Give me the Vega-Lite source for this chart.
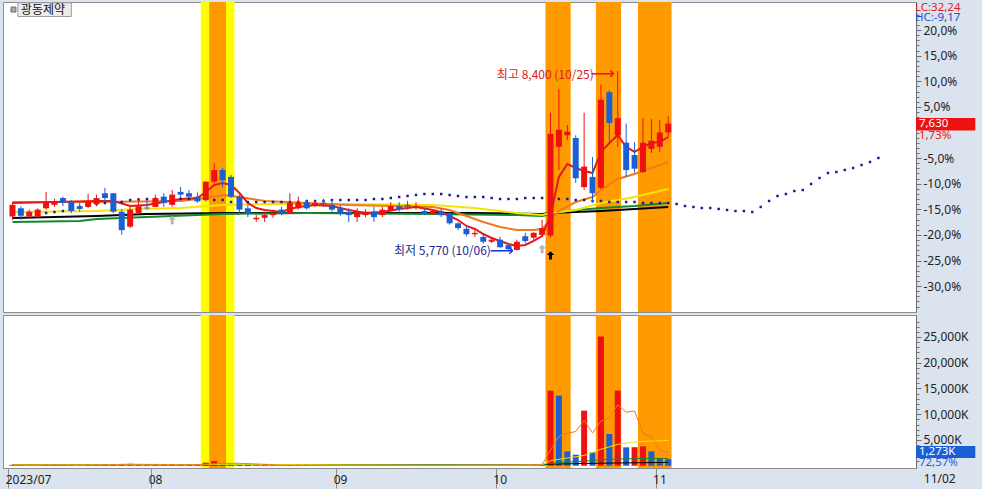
{
  "$schema": "https://vega.github.io/schema/vega-lite/v6.json",
  "background": "#dbe3ef",
  "padding": {"left": 2, "top": 1, "right": 1, "bottom": 0},
  "spacing": 3,
  "bounds": "flush",
  "config": {
    "view": {"fill": "#ffffff", "stroke": "#8c8c8c", "strokeWidth": 1},
    "axis": {"labelFont": "Noto Sans", "labelFontSize": 12, "labelColor": "#222222", "grid": false, "labelOverlap": false, "labelFlush": false, "domainColor": "#6e6e6e", "tickColor": "#6e6e6e"},
    "text": {"font": "Noto Sans", "fontSize": 12}
  },
  "datasets": {
    "bands": [
      {"a": 22.4, "b": 26.4, "kind": "yellow"},
      {"a": 23.4, "b": 25.4, "kind": "orange"},
      {"a": 63.4, "b": 66.4, "kind": "orange"},
      {"a": 69.4, "b": 72.4, "kind": "orange"},
      {"a": 74.4, "b": 78.4, "kind": "orange"}
    ],
    "candles": [
      {"i":0,"o":6270,"h":6470,"l":6220,"c":6440},{"i":1,"o":6390,"h":6420,"l":6220,"c":6280},{"i":2,"o":6270,"h":6370,"l":6250,"c":6340},{"i":3,"o":6260,"h":6390,"l":6250,"c":6370},{"i":4,"o":6390,"h":6630,"l":6370,"c":6480},{"i":5,"o":6440,"h":6530,"l":6410,"c":6480},{"i":6,"o":6540,"h":6560,"l":6420,"c":6470},{"i":7,"o":6480,"h":6510,"l":6320,"c":6350},{"i":8,"o":6420,"h":6470,"l":6340,"c":6380},{"i":9,"o":6410,"h":6600,"l":6390,"c":6480},
      {"i":10,"o":6450,"h":6590,"l":6420,"c":6540},{"i":11,"o":6610,"h":6690,"l":6480,"c":6540},{"i":12,"o":6610,"h":6610,"l":6320,"c":6340},{"i":13,"o":6340,"h":6380,"l":6000,"c":6070},{"i":14,"o":6120,"h":6410,"l":6100,"c":6370},{"i":15,"o":6320,"h":6510,"l":6320,"c":6420},{"i":16,"o":6400,"h":6510,"l":6370,"c":6390},{"i":17,"o":6410,"h":6590,"l":6410,"c":6540},{"i":18,"o":6560,"h":6610,"l":6410,"c":6470},{"i":19,"o":6440,"h":6660,"l":6410,"c":6590},
      {"i":20,"o":6630,"h":6700,"l":6540,"c":6590},{"i":21,"o":6610,"h":6660,"l":6530,"c":6560},{"i":22,"o":6560,"h":6620,"l":6470,"c":6490},{"i":23,"o":6510,"h":6780,"l":6490,"c":6780},{"i":24,"o":6780,"h":7050,"l":6760,"c":6950},{"i":25,"o":6950,"h":6980,"l":6700,"c":6800},{"i":26,"o":6850,"h":6880,"l":6540,"c":6560},{"i":27,"o":6560,"h":6590,"l":6320,"c":6370},{"i":28,"o":6390,"h":6440,"l":6260,"c":6320},{"i":29,"o":6230,"h":6290,"l":6190,"c":6250},
      {"i":30,"o":6250,"h":6340,"l":6190,"c":6290},{"i":31,"o":6290,"h":6370,"l":6250,"c":6320},{"i":32,"o":6370,"h":6410,"l":6290,"c":6320},{"i":33,"o":6320,"h":6610,"l":6320,"c":6470},{"i":34,"o":6390,"h":6560,"l":6370,"c":6470},{"i":35,"o":6480,"h":6510,"l":6370,"c":6390},{"i":36,"o":6440,"h":6510,"l":6410,"c":6470},{"i":37,"o":6470,"h":6530,"l":6410,"c":6450},{"i":38,"o":6440,"h":6510,"l":6340,"c":6370},{"i":39,"o":6390,"h":6440,"l":6280,"c":6310},
      {"i":40,"o":6340,"h":6390,"l":6190,"c":6290},{"i":41,"o":6260,"h":6390,"l":6190,"c":6340},{"i":42,"o":6290,"h":6380,"l":6260,"c":6340},{"i":43,"o":6340,"h":6410,"l":6190,"c":6260},{"i":44,"o":6290,"h":6410,"l":6260,"c":6370},{"i":45,"o":6350,"h":6480,"l":6340,"c":6420},{"i":46,"o":6420,"h":6480,"l":6340,"c":6380},{"i":47,"o":6440,"h":6500,"l":6370,"c":6420},{"i":48,"o":6410,"h":6480,"l":6370,"c":6420},{"i":49,"o":6350,"h":6390,"l":6290,"c":6320},
      {"i":50,"o":6320,"h":6380,"l":6290,"c":6350},{"i":51,"o":6350,"h":6390,"l":6260,"c":6290},{"i":52,"o":6320,"h":6340,"l":6150,"c":6170},{"i":53,"o":6170,"h":6190,"l":6070,"c":6100},{"i":54,"o":6090,"h":6120,"l":5980,"c":6010},{"i":55,"o":6010,"h":6070,"l":5970,"c":6030},{"i":56,"o":5970,"h":6030,"l":5870,"c":5900},{"i":57,"o":5900,"h":5970,"l":5880,"c":5930},{"i":58,"o":5930,"h":5970,"l":5810,"c":5820},{"i":59,"o":5850,"h":5880,"l":5780,"c":5790},
      {"i":60,"o":5780,"h":5930,"l":5770,"c":5900},{"i":61,"o":5980,"h":6030,"l":5880,"c":5910},{"i":62,"o":5960,"h":6040,"l":5930,"c":6030},{"i":63,"o":6000,"h":6220,"l":5980,"c":6100},{"i":64,"o":5990,"h":7790,"l":5960,"c":7480},{"i":65,"o":7290,"h":8140,"l":6950,"c":7540},{"i":66,"o":7460,"h":7610,"l":7390,"c":7510},{"i":67,"o":7420,"h":7460,"l":6760,"c":6830},{"i":68,"o":6700,"h":7790,"l":6660,"c":7000},{"i":69,"o":6850,"h":7140,"l":6470,"c":6610},
      {"i":70,"o":6690,"h":8200,"l":6670,"c":7980},{"i":71,"o":8090,"h":8120,"l":7350,"c":7640},{"i":72,"o":7460,"h":8400,"l":7290,"c":7710},{"i":73,"o":7350,"h":7630,"l":6850,"c":6950},{"i":74,"o":7170,"h":7360,"l":6910,"c":6970},{"i":75,"o":6920,"h":7710,"l":6910,"c":7350},{"i":76,"o":7260,"h":7700,"l":7200,"c":7380},{"i":77,"o":7290,"h":7680,"l":7210,"c":7500},{"i":78,"o":7500,"h":7740,"l":7430,"c":7630}
    ],
    "ma": [
      {"s":"ma120","i":0,"p":6248},{"s":"ma120","i":10,"p":6277},{"s":"ma120","i":16,"p":6306},{"s":"ma120","i":25,"p":6321},{"s":"ma120","i":40,"p":6321},{"s":"ma120","i":55,"p":6321},{"s":"ma120","i":63,"p":6306},{"s":"ma120","i":64,"p":6321},{"s":"ma120","i":70,"p":6350},{"s":"ma120","i":78,"p":6409},
      {"s":"ma60","i":0,"p":6189},{"s":"ma60","i":8,"p":6204},{"s":"ma60","i":10,"p":6233},{"s":"ma60","i":16,"p":6262},{"s":"ma60","i":25,"p":6306},{"s":"ma60","i":35,"p":6321},{"s":"ma60","i":50,"p":6306},{"s":"ma60","i":60,"p":6291},{"s":"ma60","i":63,"p":6277},{"s":"ma60","i":66,"p":6350},{"s":"ma60","i":70,"p":6394},{"s":"ma60","i":74,"p":6424},{"s":"ma60","i":78,"p":6467},
      {"s":"ma20","i":0,"p":6335},{"s":"ma20","i":10,"p":6350},{"s":"ma20","i":15,"p":6380},{"s":"ma20","i":20,"p":6394},{"s":"ma20","i":25,"p":6438},{"s":"ma20","i":30,"p":6453},{"s":"ma20","i":40,"p":6453},{"s":"ma20","i":50,"p":6438},{"s":"ma20","i":55,"p":6394},{"s":"ma20","i":60,"p":6321},{"s":"ma20","i":63,"p":6291},{"s":"ma20","i":64,"p":6321},{"s":"ma20","i":67,"p":6365},{"s":"ma20","i":70,"p":6467},{"s":"ma20","i":74,"p":6555},{"s":"ma20","i":78,"p":6672},
      {"s":"ma10","i":0,"p":6482},{"s":"ma10","i":10,"p":6482},{"s":"ma10","i":20,"p":6497},{"s":"ma10","i":23,"p":6541},{"s":"ma10","i":25,"p":6585},{"s":"ma10","i":27,"p":6555},{"s":"ma10","i":30,"p":6497},{"s":"ma10","i":35,"p":6467},{"s":"ma10","i":40,"p":6438},{"s":"ma10","i":45,"p":6424},{"s":"ma10","i":50,"p":6409},{"s":"ma10","i":52,"p":6365},{"s":"ma10","i":54,"p":6277},{"s":"ma10","i":56,"p":6189},{"s":"ma10","i":58,"p":6116},{"s":"ma10","i":60,"p":6072},{"s":"ma10","i":62,"p":6072},{"s":"ma10","i":63,"p":6087},{"s":"ma10","i":64,"p":6218},{"s":"ma10","i":65,"p":6350},{"s":"ma10","i":67,"p":6482},{"s":"ma10","i":69,"p":6555},{"s":"ma10","i":70,"p":6658},{"s":"ma10","i":72,"p":6819},{"s":"ma10","i":74,"p":6892},{"s":"ma10","i":76,"p":6980},{"s":"ma10","i":78,"p":7068},
      {"s":"ma5","i":0,"p":6467},{"s":"ma5","i":5,"p":6482},{"s":"ma5","i":10,"p":6497},{"s":"ma5","i":12,"p":6497},{"s":"ma5","i":14,"p":6424},{"s":"ma5","i":16,"p":6438},{"s":"ma5","i":18,"p":6482},{"s":"ma5","i":20,"p":6526},{"s":"ma5","i":22,"p":6541},{"s":"ma5","i":23,"p":6629},{"s":"ma5","i":24,"p":6731},{"s":"ma5","i":25,"p":6760},{"s":"ma5","i":26,"p":6731},{"s":"ma5","i":27,"p":6614},{"s":"ma5","i":28,"p":6467},{"s":"ma5","i":29,"p":6394},{"s":"ma5","i":30,"p":6365},{"s":"ma5","i":31,"p":6350},{"s":"ma5","i":32,"p":6335},{"s":"ma5","i":33,"p":6380},{"s":"ma5","i":34,"p":6409},{"s":"ma5","i":36,"p":6438},{"s":"ma5","i":38,"p":6424},{"s":"ma5","i":40,"p":6365},{"s":"ma5","i":42,"p":6321},{"s":"ma5","i":44,"p":6335},{"s":"ma5","i":46,"p":6380},{"s":"ma5","i":48,"p":6409},{"s":"ma5","i":50,"p":6365},{"s":"ma5","i":51,"p":6335},{"s":"ma5","i":52,"p":6277},{"s":"ma5","i":53,"p":6218},{"s":"ma5","i":54,"p":6131},{"s":"ma5","i":55,"p":6087},{"s":"ma5","i":56,"p":6013},{"s":"ma5","i":57,"p":5955},{"s":"ma5","i":58,"p":5911},{"s":"ma5","i":59,"p":5867},{"s":"ma5","i":60,"p":5837},{"s":"ma5","i":61,"p":5852},{"s":"ma5","i":62,"p":5911},{"s":"ma5","i":63,"p":5984},{"s":"ma5","i":64,"p":6280},{"s":"ma5","i":65,"p":6848},{"s":"ma5","i":66,"p":7039},{"s":"ma5","i":67,"p":6980},{"s":"ma5","i":68,"p":6936},{"s":"ma5","i":69,"p":6907},{"s":"ma5","i":70,"p":7215},{"s":"ma5","i":71,"p":7346},{"s":"ma5","i":72,"p":7463},{"s":"ma5","i":73,"p":7288},{"s":"ma5","i":74,"p":7215},{"s":"ma5","i":75,"p":7288},{"s":"ma5","i":76,"p":7346},{"s":"ma5","i":77,"p":7361},{"s":"ma5","i":78,"p":7434}
    ],
    "dots": [
      {"i":3,"p":6306},{"i":4,"p":6321},{"i":5,"p":6335},{"i":6,"p":6350},{"i":7,"p":6380},{"i":8,"p":6409},{"i":9,"p":6438},{"i":10,"p":6453},{"i":11,"p":6467},{"i":12,"p":6482},{"i":13,"p":6482},{"i":14,"p":6511},{"i":15,"p":6520},{"i":16,"p":6526},{"i":17,"p":6526},{"i":18,"p":6526},{"i":19,"p":6526},{"i":20,"p":6526},{"i":21,"p":6526},{"i":22,"p":6526},{"i":23,"p":6526},{"i":24,"p":6511},{"i":25,"p":6511},{"i":26,"p":6482},{"i":27,"p":6482},{"i":28,"p":6482},{"i":29,"p":6482},{"i":30,"p":6482},{"i":31,"p":6482},{"i":32,"p":6482},{"i":33,"p":6482},{"i":34,"p":6482},{"i":35,"p":6497},{"i":36,"p":6497},{"i":37,"p":6497},{"i":38,"p":6511},{"i":39,"p":6511},{"i":40,"p":6511},{"i":41,"p":6511},{"i":42,"p":6511},{"i":43,"p":6526},{"i":44,"p":6526},{"i":45,"p":6541},{"i":46,"p":6555},{"i":47,"p":6570},{"i":48,"p":6585},{"i":49,"p":6599},{"i":50,"p":6599},{"i":51,"p":6599},{"i":52,"p":6585},{"i":53,"p":6570},{"i":54,"p":6555},{"i":55,"p":6555},{"i":56,"p":6555},{"i":57,"p":6541},{"i":58,"p":6526},{"i":59,"p":6526},{"i":60,"p":6526},{"i":61,"p":6541},{"i":62,"p":6541},{"i":63,"p":6541},{"i":64,"p":6526},{"i":65,"p":6526},{"i":66,"p":6526},{"i":67,"p":6511},{"i":68,"p":6511},{"i":69,"p":6497},{"i":70,"p":6497},{"i":71,"p":6482},{"i":72,"p":6482},{"i":73,"p":6482},{"i":74,"p":6482},{"i":75,"p":6467},{"i":76,"p":6467},{"i":77,"p":6467},{"i":78,"p":6467},{"i":79,"p":6453},{"i":80,"p":6424},{"i":81,"p":6409},{"i":82,"p":6394},{"i":83,"p":6394},{"i":84,"p":6380},{"i":85,"p":6365},{"i":86,"p":6350},{"i":87,"p":6350},{"i":88,"p":6335},{"i":89,"p":6409},{"i":90,"p":6497},{"i":91,"p":6570},{"i":92,"p":6599},{"i":93,"p":6643},{"i":94,"p":6658},{"i":95,"p":6746},{"i":96,"p":6834},{"i":97,"p":6907},{"i":98,"p":6922},{"i":99,"p":6951},{"i":100,"p":6980},{"i":101,"p":7024},{"i":102,"p":7068},{"i":103,"p":7127}
    ],
    "vol": [
      {"i":0,"v":180},{"i":1,"v":120},{"i":2,"v":100},{"i":3,"v":90},{"i":4,"v":260},{"i":5,"v":150},{"i":6,"v":140},{"i":7,"v":130},{"i":8,"v":90},{"i":9,"v":160},{"i":10,"v":170},{"i":11,"v":230},{"i":12,"v":280},{"i":13,"v":350},{"i":14,"v":380},{"i":15,"v":200},{"i":16,"v":130},{"i":17,"v":250},{"i":18,"v":200},{"i":19,"v":260},{"i":20,"v":170},{"i":21,"v":120},{"i":22,"v":110},{"i":23,"v":600},{"i":24,"v":900},{"i":25,"v":450},{"i":26,"v":350},{"i":27,"v":250},{"i":28,"v":160},{"i":29,"v":110},{"i":30,"v":100},{"i":31,"v":90},{"i":32,"v":80},{"i":33,"v":200},{"i":34,"v":130},{"i":35,"v":110},{"i":36,"v":90},{"i":37,"v":80},{"i":38,"v":100},{"i":39,"v":90},{"i":40,"v":110},{"i":41,"v":100},{"i":42,"v":80},{"i":43,"v":110},{"i":44,"v":90},{"i":45,"v":100},{"i":46,"v":80},{"i":47,"v":70},{"i":48,"v":70},{"i":49,"v":90},{"i":50,"v":80},{"i":51,"v":90},{"i":52,"v":150},{"i":53,"v":130},{"i":54,"v":160},{"i":55,"v":90},{"i":56,"v":140},{"i":57,"v":100},{"i":58,"v":150},{"i":59,"v":180},{"i":60,"v":200},{"i":61,"v":150},{"i":62,"v":120},{"i":63,"v":350},{"i":64,"v":14590},{"i":65,"v":13620},{"i":66,"v":2790},{"i":67,"v":2140},{"i":68,"v":10700},{"i":69,"v":2600},{"i":70,"v":25100},{"i":71,"v":6170},{"i":72,"v":14590},{"i":73,"v":3570},{"i":74,"v":3600},{"i":75,"v":3760},{"i":76,"v":2790},{"i":77,"v":1490},{"i":78,"v":1273}
    ],
    "vma": [
      {"s":"ma120v","i":0,"v":180},{"s":"ma120v","i":30,"v":200},{"s":"ma120v","i":63,"v":190},{"s":"ma120v","i":64,"v":300},{"s":"ma120v","i":70,"v":500},{"s":"ma120v","i":78,"v":650},
      {"s":"ma60v","i":0,"v":200},{"s":"ma60v","i":30,"v":230},{"s":"ma60v","i":63,"v":180},{"s":"ma60v","i":64,"v":430},{"s":"ma60v","i":66,"v":700},{"s":"ma60v","i":68,"v":900},{"s":"ma60v","i":70,"v":1150},{"s":"ma60v","i":72,"v":1300},{"s":"ma60v","i":74,"v":1380},{"s":"ma60v","i":76,"v":1420},{"s":"ma60v","i":78,"v":1440},
      {"s":"ma20v","i":0,"v":170},{"s":"ma20v","i":10,"v":180},{"s":"ma20v","i":20,"v":200},{"s":"ma20v","i":25,"v":280},{"s":"ma20v","i":30,"v":270},{"s":"ma20v","i":40,"v":150},{"s":"ma20v","i":50,"v":100},{"s":"ma20v","i":60,"v":120},{"s":"ma20v","i":63,"v":160},{"s":"ma20v","i":64,"v":1000},{"s":"ma20v","i":66,"v":1500},{"s":"ma20v","i":68,"v":2000},{"s":"ma20v","i":70,"v":3200},{"s":"ma20v","i":72,"v":4150},{"s":"ma20v","i":74,"v":4620},{"s":"ma20v","i":76,"v":4800},{"s":"ma20v","i":78,"v":4900},
      {"s":"ma5v","i":0,"v":150},{"s":"ma5v","i":5,"v":160},{"s":"ma5v","i":10,"v":170},{"s":"ma5v","i":14,"v":290},{"s":"ma5v","i":18,"v":240},{"s":"ma5v","i":20,"v":210},{"s":"ma5v","i":23,"v":260},{"s":"ma5v","i":25,"v":450},{"s":"ma5v","i":27,"v":480},{"s":"ma5v","i":29,"v":340},{"s":"ma5v","i":32,"v":120},{"s":"ma5v","i":36,"v":120},{"s":"ma5v","i":40,"v":95},{"s":"ma5v","i":45,"v":95},{"s":"ma5v","i":50,"v":80},{"s":"ma5v","i":55,"v":120},{"s":"ma5v","i":60,"v":150},{"s":"ma5v","i":63,"v":200},{"s":"ma5v","i":64,"v":3040},{"s":"ma5v","i":65,"v":5730},{"s":"ma5v","i":66,"v":6260},{"s":"ma5v","i":67,"v":6660},{"s":"ma5v","i":68,"v":8770},{"s":"ma5v","i":69,"v":6370},{"s":"ma5v","i":70,"v":8670},{"s":"ma5v","i":71,"v":9340},{"s":"ma5v","i":72,"v":11830},{"s":"ma5v","i":73,"v":10410},{"s":"ma5v","i":74,"v":10610},{"s":"ma5v","i":75,"v":6340},{"s":"ma5v","i":76,"v":5660},{"s":"ma5v","i":77,"v":3040},{"s":"ma5v","i":78,"v":2580}
    ]
  },
  "vconcat": [
    {
      "width": 913,
      "height": 310,
      "resolve": {"axis": {"y": "independent"}},
      "layer": [
        {
          "data": {"name": "bands"},
          "mark": {"type": "rect"},
          "encoding": {
            "x": {"field": "a", "type": "quantitative", "scale": {"domain": [-0.53, 106.88], "nice": false, "zero": false}, "axis": null},
            "x2": {"field": "b"},
            "color": {"condition": {"test": "datum.kind == 'yellow'", "value": "#ffff00"}, "value": "#ff9a00"}
          }
        },
        {
          "data": {"name": "ma"},
          "mark": {"type": "line", "strokeWidth": 2},
          "encoding": {
            "x": {"field": "i", "type": "quantitative"},
            "y": {
              "field": "p", "type": "quantitative",
              "scale": {"domain": [4870.7, 9411.6], "nice": false, "zero": false},
              "axis": {
                "orient": "right", "title": null,
                "values": [5250, 5625, 6000, 6375, 6750, 7125, 7875, 8250, 8625, 9000],
                "labelExpr": "(datum.value < 7500 ? '-' : '') + abs(round((datum.value-7500)/75)) + ',0%'",
                "tickSize": 5,
                "labelOverlap": false, "labelFlush": false,
                "labelPadding": 2,
                "minExtent": 66, "maxExtent": 66
              }
            },
            "color": {"field": "s", "type": "nominal", "scale": {"domain": ["ma120", "ma60", "ma20", "ma10", "ma5"], "range": ["#000000", "#14882a", "#f2e600", "#f07a1e", "#e81818"]}, "legend": null}
          }
        },
        {
          "data": {"name": "dots"},
          "mark": {"type": "point", "shape": "square", "filled": true, "size": 6, "opacity": 1, "color": "#1a1a96"},
          "encoding": {
            "x": {"field": "i", "type": "quantitative"},
            "y": {
              "field": "p", "type": "quantitative",
              "axis": {
                "orient": "right", "title": null, "labels": false, "domain": false,
                "values": [4950,5025,5100,5175,5250,5325,5400,5475,5550,5625,5700,5775,5850,5925,6000,6075,6150,6225,6300,6375,6450,6525,6600,6675,6750,6825,6900,6975,7050,7125,7200,7275,7350,7425,7500,7575,7650,7725,7800,7875,7950,8025,8100,8175,8250,8325,8400,8475,8550,8625,8700,8775,8850,8925,9000,9075,9150,9225,9300],
                "tickSize": 3,
                "minExtent": 66, "maxExtent": 66
              }
            }
          }
        },
        {
          "data": {"name": "candles"},
          "mark": {"type": "rule", "strokeWidth": 1},
          "encoding": {
            "x": {"field": "i", "type": "quantitative"},
            "y": {"field": "l", "type": "quantitative", "axis": null},
            "y2": {"field": "h"},
            "color": {"condition": {"test": "datum.c >= datum.o", "value": "#ee1111"}, "value": "#1c5fd4"}
          }
        },
        {
          "data": {"name": "candles"},
          "mark": {"type": "bar", "width": 6, "orient": "vertical"},
          "encoding": {
            "x": {"field": "i", "type": "quantitative"},
            "y": {"field": "o", "type": "quantitative", "axis": null},
            "y2": {"field": "c"},
            "color": {"condition": {"test": "datum.c >= datum.o", "value": "#ee1111"}, "value": "#1c5fd4"}
          }
        },
        {
          "data": {"values": [{"i": 19, "p": 6218, "k": "gray"}, {"i": 63, "p": 5793, "k": "gray"}, {"i": 64, "p": 5700, "k": "black"}]},
          "mark": {"type": "point", "shape": "M0,-1L0.9,-0.1L0.35,-0.1L0.35,1L-0.35,1L-0.35,-0.1L-0.9,-0.1Z", "filled": true, "size": 70, "opacity": 1},
          "encoding": {
            "x": {"field": "i", "type": "quantitative"},
            "y": {"field": "p", "type": "quantitative", "axis": null},
            "color": {"condition": {"test": "datum.k == 'black'", "value": "#000000"}, "value": "#b4b4b4"}
          }
        },
        {
          "data": {"values": [{"i": 72, "p": 8400, "t": "최고 8,400 (10/25)"}]},
          "mark": {"type": "text", "align": "right", "baseline": "middle", "dx": -24, "dy": 4, "font": "Noto Sans CJK KR", "fontSize": 12, "color": "#d81e1e"},
          "encoding": {"x": {"field": "i", "type": "quantitative"}, "y": {"field": "p", "type": "quantitative", "axis": null}, "text": {"field": "t"}}
        },
        {
          "data": {"values": [{"i": 72, "p": 8400}]},
          "mark": {"type": "text", "text": "⟶", "align": "right", "baseline": "middle", "dx": -3, "dy": 3, "font": "DejaVu Sans", "fontSize": 17, "color": "#e81818"},
          "encoding": {"x": {"field": "i", "type": "quantitative"}, "y": {"field": "p", "type": "quantitative", "axis": null}}
        },
        {
          "data": {"values": [{"i": 60, "p": 5770, "t": "최저 5,770 (10/06)"}]},
          "mark": {"type": "text", "align": "right", "baseline": "middle", "dx": -26, "dy": 0, "font": "Noto Sans CJK KR", "fontSize": 12, "color": "#1f2a8a"},
          "encoding": {"x": {"field": "i", "type": "quantitative"}, "y": {"field": "p", "type": "quantitative", "axis": null}, "text": {"field": "t"}}
        },
        {
          "data": {"values": [{"i": 60, "p": 5770}]},
          "mark": {"type": "text", "text": "⟶", "align": "right", "baseline": "middle", "dx": -3, "dy": 0, "font": "DejaVu Sans", "fontSize": 17, "color": "#1538e0"},
          "encoding": {"x": {"field": "i", "type": "quantitative"}, "y": {"field": "p", "type": "quantitative", "axis": null}}
        },
        {
          "data": {"values": [{"t": "LC:32,24"}]},
          "mark": {"type": "text", "align": "left", "baseline": "middle", "fontSize": 11.5, "color": "#e02020"},
          "encoding": {"x": {"datum": 107.35, "type": "quantitative"}, "y": {"datum": 9324, "type": "quantitative", "axis": null}, "text": {"field": "t"}}
        },
        {
          "data": {"values": [{"t": "HC:-9,17"}]},
          "mark": {"type": "text", "align": "left", "baseline": "middle", "fontSize": 11.5, "color": "#2050c8"},
          "encoding": {"x": {"datum": 107.35, "type": "quantitative"}, "y": {"datum": 9170, "type": "quantitative", "axis": null}, "text": {"field": "t"}}
        },
        {
          "data": {"values": [{"t": "7,630"}]},
          "mark": {"type": "rect", "color": "#ee1111"},
          "encoding": {"x": {"datum": 107.47, "type": "quantitative"}, "x2": {"datum": 114.53}, "y": {"datum": 7712, "type": "quantitative", "axis": null}, "y2": {"datum": 7529}}
        },
        {
          "data": {"values": [{"t": "7,630", "p": 7630}]},
          "mark": {"type": "text", "align": "left", "baseline": "middle", "fontSize": 11.5, "color": "#ffffff"},
          "encoding": {"x": {"datum": 107.82, "type": "quantitative"}, "y": {"field": "p", "type": "quantitative", "axis": null}, "text": {"field": "t"}}
        },
        {
          "data": {"values": [{"t": "1,73%"}]},
          "mark": {"type": "text", "align": "left", "baseline": "middle", "fontSize": 11.5, "color": "#e02020"},
          "encoding": {"x": {"datum": 107.82, "type": "quantitative"}, "y": {"datum": 7450, "type": "quantitative", "axis": null}, "text": {"field": "t"}}
        },
        {
          "data": {"values": [{"t": "box"}]},
          "mark": {"type": "rect", "fill": "#ededed", "stroke": "#9a9a9a", "strokeWidth": 1},
          "encoding": {"x": {"datum": 0.65, "type": "quantitative"}, "x2": {"datum": 7.0}, "y": {"datum": 9400, "type": "quantitative", "axis": null}, "y2": {"datum": 9200}}
        },
        {
          "data": {"values": [{"t": "sq"}]},
          "mark": {"type": "point", "shape": "square", "filled": true, "size": 25, "opacity": 1, "color": "#a8a8a8", "stroke": "#707070", "strokeWidth": 1},
          "encoding": {"x": {"datum": 0.12, "type": "quantitative"}, "y": {"datum": 9301, "type": "quantitative", "axis": null}}
        },
        {
          "data": {"values": [{"t": "광동제약"}]},
          "mark": {"type": "text", "align": "left", "baseline": "middle", "font": "Noto Sans CJK KR", "fontSize": 12, "color": "#111111"},
          "encoding": {"x": {"datum": 1.0, "type": "quantitative"}, "y": {"datum": 9298, "type": "quantitative", "axis": null}, "text": {"field": "t"}}
        }
      ]
    },
    {
      "width": 913,
      "height": 153,
      "resolve": {"axis": {"y": "independent"}},
      "layer": [
        {
          "data": {"name": "bands"},
          "mark": {"type": "rect"},
          "encoding": {
            "x": {
              "field": "a", "type": "quantitative",
              "scale": {"domain": [-0.53, 106.88], "nice": false, "zero": false},
              "axis": {
                "title": null,
                "values": [-0.5, 16.5, 38.5, 57.5, 76.5],
                "labelExpr": "datum.value < 0 ? '2023/07' : datum.value < 20 ? '08' : datum.value < 40 ? '09' : datum.value < 60 ? '10' : '11'",
                "labelAlign": "left", "labelBaseline": "middle",
                "labelOffset": -3, "labelPadding": -9,
                "labelOverlap": false, "labelFlush": false,
                "tickSize": 20, "tickColor": "#8c8c8c", "domainColor": "#8c8c8c",
                "minExtent": 21, "maxExtent": 21
              }
            },
            "x2": {"field": "b"},
            "color": {"condition": {"test": "datum.kind == 'yellow'", "value": "#ffff00"}, "value": "#ff9a00"}
          }
        },
        {
          "data": {"name": "vol"},
          "transform": [{"window": [{"op": "lag", "field": "v", "as": "pv"}], "sort": [{"field": "i", "order": "ascending"}]}],
          "mark": {"type": "bar", "width": 6, "orient": "vertical"},
          "encoding": {
            "x": {"field": "i", "type": "quantitative"},
            "y": {
              "field": "v", "type": "quantitative",
              "scale": {"domain": [-437, 29271], "nice": false, "zero": false},
              "axis": {
                "orient": "right", "title": null,
                "values": [5000, 10000, 15000, 20000, 25000],
                "labelExpr": "format(datum.value, ',') + 'K'",
                "tickSize": 5,
                "labelOverlap": false, "labelFlush": false,
                "labelPadding": 2,
                "minExtent": 66, "maxExtent": 66
              }
            },
            "color": {"condition": {"test": "datum.pv == null || datum.v >= datum.pv", "value": "#ee1111"}, "value": "#1c5fd4"}
          }
        },
        {
          "data": {"name": "vma"},
          "mark": {"type": "line", "strokeWidth": 1},
          "encoding": {
            "x": {"field": "i", "type": "quantitative"},
            "y": {
              "field": "v", "type": "quantitative",
              "axis": {
                "orient": "right", "title": null, "labels": false, "domain": false,
                "values": [1000,2000,3000,4000,6000,7000,8000,9000,11000,12000,13000,14000,16000,17000,18000,19000,21000,22000,23000,24000,26000,27000,28000],
                "tickSize": 3,
                "minExtent": 66, "maxExtent": 66
              }
            },
            "color": {"field": "s", "type": "nominal", "scale": {"domain": ["ma120v", "ma60v", "ma20v", "ma5v"], "range": ["#707070", "#2a8a2a", "#e0b400", "#c02cc0"]}, "legend": null}
          }
        },
        {
          "data": {"values": [{"t": "box"}]},
          "mark": {"type": "rect", "color": "#1c5fd4"},
          "encoding": {"x": {"datum": 107.47, "type": "quantitative"}, "x2": {"datum": 114.53}, "y": {"datum": 3835, "type": "quantitative", "axis": null}, "y2": {"datum": 1505}}
        },
        {
          "data": {"values": [{"t": "1,273K"}]},
          "mark": {"type": "text", "align": "left", "baseline": "middle", "fontSize": 11.5, "color": "#ffffff"},
          "encoding": {"x": {"datum": 107.82, "type": "quantitative"}, "y": {"datum": 2670, "type": "quantitative", "axis": null}, "text": {"field": "t"}}
        },
        {
          "data": {"values": [{"t": "72,57%"}]},
          "mark": {"type": "text", "align": "left", "baseline": "middle", "fontSize": 11.5, "color": "#1c5fd4"},
          "encoding": {"x": {"datum": 107.82, "type": "quantitative"}, "y": {"datum": 437, "type": "quantitative", "axis": null}, "text": {"field": "t"}}
        },
        {
          "data": {"values": [{"t": "11/02"}]},
          "mark": {"type": "text", "align": "left", "baseline": "middle", "fontSize": 12, "color": "#222222"},
          "encoding": {"x": {"datum": 108.4, "type": "quantitative"}, "y": {"datum": -2573, "type": "quantitative", "axis": null}, "text": {"field": "t"}}
        }
      ]
    }
  ]
}
